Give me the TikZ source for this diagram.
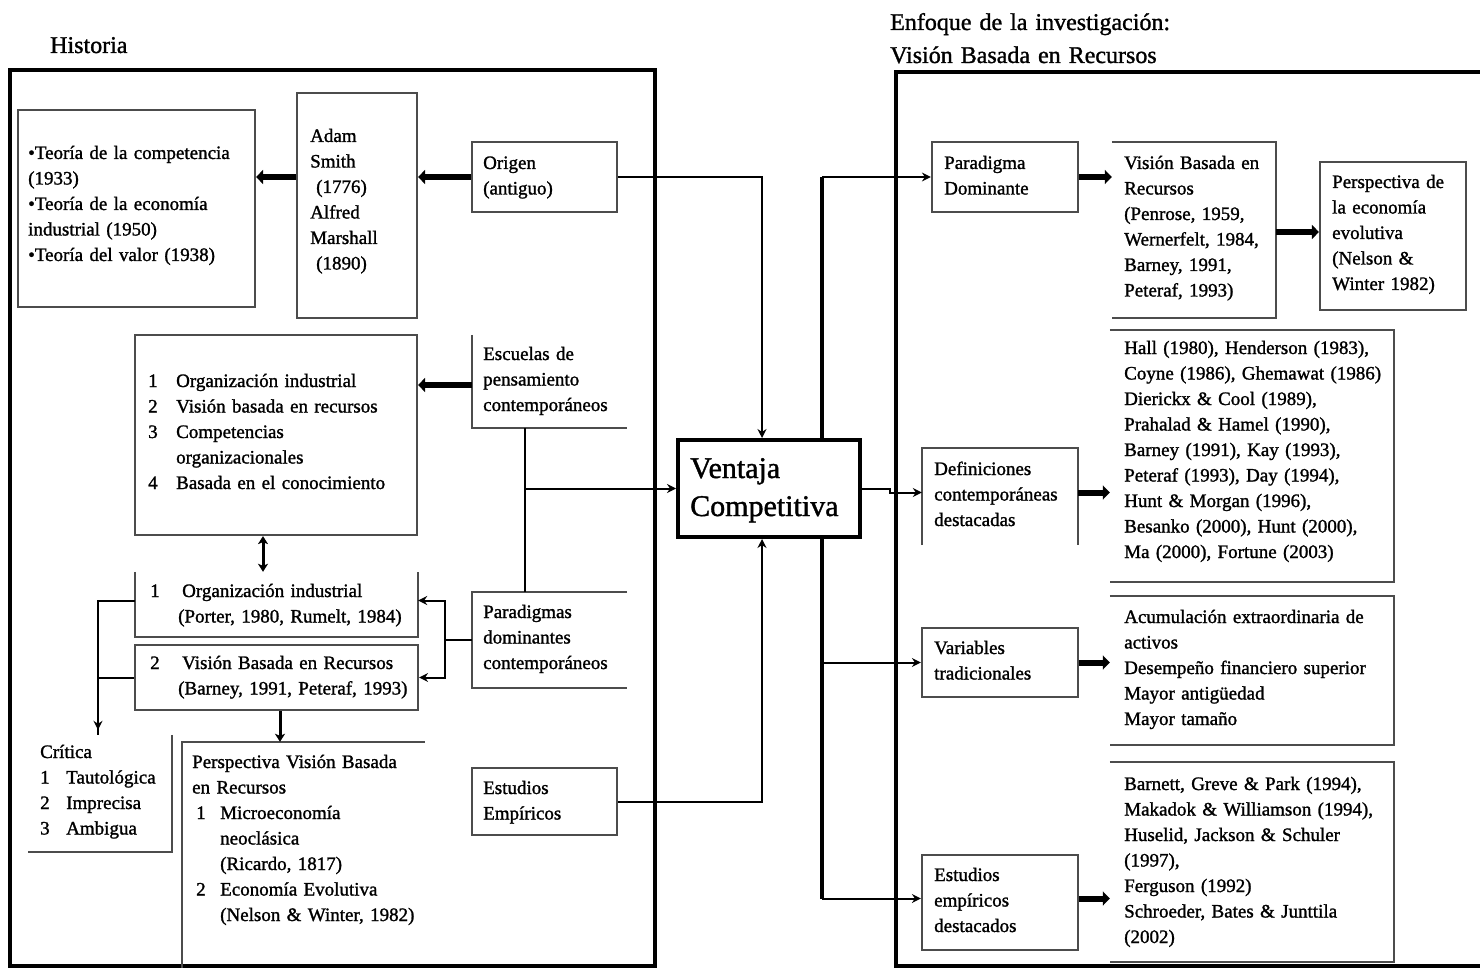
\documentclass[tikz,border=0pt]{standalone}
\usepackage{fontspec}
\setmainfont{Liberation Serif}[FakeBold=1.3]
\usetikzlibrary{arrows.meta}
\newcommand\numit[2][28pt]{\makebox[#1][l]{#2}}
\newcommand\contind[1][28pt]{\hspace*{#1}}
\begin{document}
\begin{tikzpicture}[x=1pt,y=-1pt,
  outerframe/.style={draw=black, line width=3.5pt},
  box/.style={rectangle, inner sep=0pt, draw=black!70, line width=2.2pt, fill=white},
  shell/.style={rectangle, inner sep=0pt},
  rim/.style={draw=black!70, line width=2.2pt},
  txt/.style={anchor=base west, inner sep=0pt, text width=320pt, align=left,
              font=\fontsize{19}{25.5}\selectfont},
  ttl/.style={anchor=base west, inner sep=0pt, text width=420pt, align=left,
              font=\fontsize{24}{33}\selectfont},
  conn/.style={draw=black, line width=2pt, -{Stealth[length=9pt,width=9pt,inset=3pt]}},
  link/.style={draw=black, line width=2pt},
  twoway/.style={draw=black, line width=3pt,
                 {Stealth[length=8pt,width=10pt,inset=2pt]}-{Stealth[length=8pt,width=10pt,inset=2pt]}},
  down/.style={draw=black, line width=3pt, -{Stealth[length=8pt,width=10pt,inset=2pt]}},
  heavy/.style={draw=black, line width=6pt, -{Triangle[length=7pt,width=14pt]}},
  bus/.style={draw=black, line width=3.2pt},
]
\useasboundingbox (0,0) rectangle (1480,968);
\clip (0,0) rectangle (1480,968);
\fill[white] (0,0) rectangle (1480,968);

% ---------- headings ----------
\node[ttl] (hHist) at (50,53) {Historia};
\node[ttl] (hEnf) at (890,30) {Enfoque de la investigación:\\Visión Basada en Recursos};

% ---------- outer frames ----------
\draw[outerframe] (10,70) rectangle (655,966);
\draw[outerframe] (896,72) rectangle (1510,966);

% ---------- left column boxes ----------
\node[box, minimum width=237pt, minimum height=197pt] (A) at (136.5,208.5) {};
\node[box, minimum width=120pt, minimum height=225pt] (B) at (357,205.5) {};
\node[box, minimum width=145pt, minimum height=70pt] (C) at (544.5,177) {};
\node[box, minimum width=282pt, minimum height=200pt] (D) at (276,435) {};
\node[shell, minimum width=155pt, minimum height=93pt] (E) at (549.5,381.5) {};
\node[shell, minimum width=283pt, minimum height=65pt] (F) at (276.5,604.5) {};
\node[box, minimum width=283pt, minimum height=65pt] (G) at (276.5,677.5) {};
\node[shell, minimum width=155pt, minimum height=96pt] (H) at (549.5,640) {};
\node[shell, minimum width=144pt, minimum height=117pt] (I) at (100,793.5) {};
\node[shell, minimum width=243pt, minimum height=226pt] (J) at (303.5,855) {};
\node[box, minimum width=145pt, minimum height=67pt] (K) at (544.5,801.5) {};

% open-sided boxes
\draw[rim] (E.north west) -- (E.south west) -- (E.south east);
\draw[rim] (F.north west) -- (F.south west) -- (F.south east) -- (F.north east);
\draw[rim] (H.north east) -- (H.north west) -- (H.south west) -- (H.south east);
\draw[rim] (I.north east) -- (I.south east) -- (I.south west);
\draw[rim] (J.south west) -- (J.north west) -- (J.north east);

% ---------- right column boxes ----------
\node[box, minimum width=146pt, minimum height=70pt] (PD) at (1005,177) {};
\node[shell, minimum width=164pt, minimum height=176pt] (VB) at (1194,230) {};
\node[box, minimum width=146pt, minimum height=148pt] (PE) at (1393,236) {};
\node[shell, minimum width=156pt, minimum height=97pt] (DC) at (1000,496.5) {};
\node[shell, minimum width=284pt, minimum height=252pt] (L1) at (1252,456) {};
\node[box, minimum width=156pt, minimum height=69pt] (VT) at (1000,662.5) {};
\node[shell, minimum width=284pt, minimum height=149pt] (L2) at (1252,670.5) {};
\node[box, minimum width=156pt, minimum height=95pt] (EE) at (1000,902.5) {};
\node[shell, minimum width=284pt, minimum height=200pt] (L3) at (1252,862) {};

\draw[rim] (VB.north west) -- (VB.north east) -- (VB.south east) -- (VB.south west);
\draw[rim] (DC.south west) -- (DC.north west) -- (DC.north east) -- (DC.south east);
\draw[rim] (L1.north west) -- (L1.north east) -- (L1.south east) -- (L1.south west);
\draw[rim] (L2.north west) -- (L2.north east) -- (L2.south east) -- (L2.south west);
\draw[rim] (L3.north west) -- (L3.north east) -- (L3.south east) -- (L3.south west);

% ---------- vertical bus on the right, behind the central box ----------
\coordinate (busx) at (822,0);
\draw[bus] (busx |- PD.west) -- ([yshift=4pt]busx |- EE.west);

% ---------- central box ----------
\node[rectangle, inner sep=0pt, draw=black, line width=4pt, fill=white,
      minimum width=182pt, minimum height=97pt] (V) at (769,488.5) {};

% ---------- connectors, left side ----------
\draw[heavy] (B.west |- C.west) -- (A.east |- C.west);
\draw[heavy] (C.west) -- (B.east |- C.west);
\draw[heavy] (E.west |- 0,385) -- (D.east |- 0,385);
\draw[conn] (C.east) -| ([xshift=-7pt]V.north);
\draw[conn] (K.east) -| ([xshift=-7pt]V.south);
\coordinate (ej) at ([xshift=-25pt]E.south);
\draw[link] (ej) -- (ej |- H.north);
\draw[conn] (ej |- V.west) -- (V.west);
\draw[twoway] ([xshift=-13pt]D.south) -- ([xshift=-13pt]D.south |- F.north);
\coordinate (hj) at ([xshift=-27pt]H.west);
\draw[link] (H.west) -- (hj);
\draw[conn] (hj) |- ([yshift=4pt]F.east);
\draw[conn] (hj) |- (G.east);
\draw[link] ([yshift=4pt]F.west) -| ([xshift=-2pt]I.north);
\draw[conn] (G.west) -| ([xshift=-2pt,yshift=5pt]I.north);
\draw[down] ([xshift=3.5pt]G.south) -- ([xshift=3.5pt]G.south |- J.north);

% ---------- connectors, right side ----------
\draw[conn] (V.east) -- ++(28,0) |- ([yshift=4pt]DC.west);
\draw[conn] (busx |- PD.west) -- (PD.west);
\draw[conn] (busx |- VT.west) -- (VT.west);
\draw[conn] ([yshift=4pt]busx |- EE.west) -- ([yshift=4pt]EE.west);
\draw[heavy] (PD.east) -- (PD.east -| VB.west);
\draw[heavy] (VB.east |- 0,232) -- (PE.west |- 0,232);
\draw[heavy] ([yshift=4pt]DC.east) -- ([yshift=4pt]DC.east -| L1.west);
\draw[heavy] (VT.east) -- (VT.east -| L2.west);
\draw[heavy] ([yshift=4pt]EE.east) -- ([yshift=4pt]EE.east -| L3.west);

% ---------- texts ----------
\node[txt] (tA) at (28,159) {•Teoría de la competencia\\(1933)\\•Teoría de la economía\\industrial (1950)\\•Teoría del valor (1938)};
\node[txt] (tB) at (310,142) {Adam\\Smith\\\contind[6pt](1776)\\Alfred\\Marshall\\\contind[6pt](1890)};
\node[txt] (tC) at (483,169) {Origen\\(antiguo)};
\node[txt] (tD) at (148,387) {\numit{1}Organización industrial\\\numit{2}Visión basada en recursos\\\numit{3}Competencias\\\contind organizacionales\\\numit{4}Basada en el conocimiento};
\node[txt] (tE) at (483,360) {Escuelas de\\pensamiento\\contemporáneos};
\node[txt] (tF) at (150,597) {\numit[32pt]{1}Organización industrial\\\contind(Porter, 1980, Rumelt, 1984)};
\node[txt] (tG) at (150,669) {\numit[32pt]{2}Visión Basada en Recursos\\\contind(Barney, 1991, Peteraf, 1993)};
\node[txt] (tH) at (483,618) {Paradigmas\\dominantes\\contemporáneos};
\node[txt] (tI) at (40,758) {Crítica\\\numit[26pt]{1}Tautológica\\\numit[26pt]{2}Imprecisa\\\numit[26pt]{3}Ambigua};
\node[txt] (tJ) at (192,768) {Perspectiva Visión Basada\\en Recursos\\\contind[4pt]\numit[24pt]{1}Microeconomía\\\contind neoclásica\\\contind(Ricardo, 1817)\\\contind[4pt]\numit[24pt]{2}Economía Evolutiva\\\contind(Nelson \& Winter, 1982)};
\node[txt] (tK) at (483,794) {Estudios\\Empíricos};
\node[txt, font=\fontsize{30}{38}\selectfont] (tV) at (690,478) {Ventaja\\Competitiva};

\node[txt] (tPD) at (944,169) {Paradigma\\Dominante};
\node[txt] (tVB) at (1124,169) {Visión Basada en\\Recursos\\(Penrose, 1959,\\Wernerfelt, 1984,\\Barney, 1991,\\Peteraf, 1993)};
\node[txt] (tPE) at (1332,188) {Perspectiva de\\la economía\\evolutiva\\(Nelson \&\\Winter 1982)};
\node[txt] (tDC) at (934,475) {Definiciones\\contemporáneas\\destacadas};
\node[txt] (tL1) at (1124,354) {Hall (1980), Henderson (1983),\\Coyne (1986), Ghemawat (1986)\\Dierickx \& Cool (1989),\\Prahalad \& Hamel (1990),\\Barney (1991), Kay (1993),\\Peteraf (1993), Day (1994),\\Hunt \& Morgan (1996),\\Besanko (2000), Hunt (2000),\\Ma (2000), Fortune (2003)};
\node[txt] (tVT) at (934,654) {Variables\\tradicionales};
\node[txt] (tL2) at (1124,623) {Acumulación extraordinaria de\\activos\\Desempeño financiero superior\\Mayor antigüedad\\Mayor tamaño};
\node[txt] (tEE) at (934,881) {Estudios\\empíricos\\destacados};
\node[txt] (tL3) at (1124,790) {Barnett, Greve \& Park (1994),\\Makadok \& Williamson (1994),\\Huselid, Jackson \& Schuler\\(1997),\\Ferguson (1992)\\Schroeder, Bates \& Junttila\\(2002)};
\end{tikzpicture}
\end{document}
